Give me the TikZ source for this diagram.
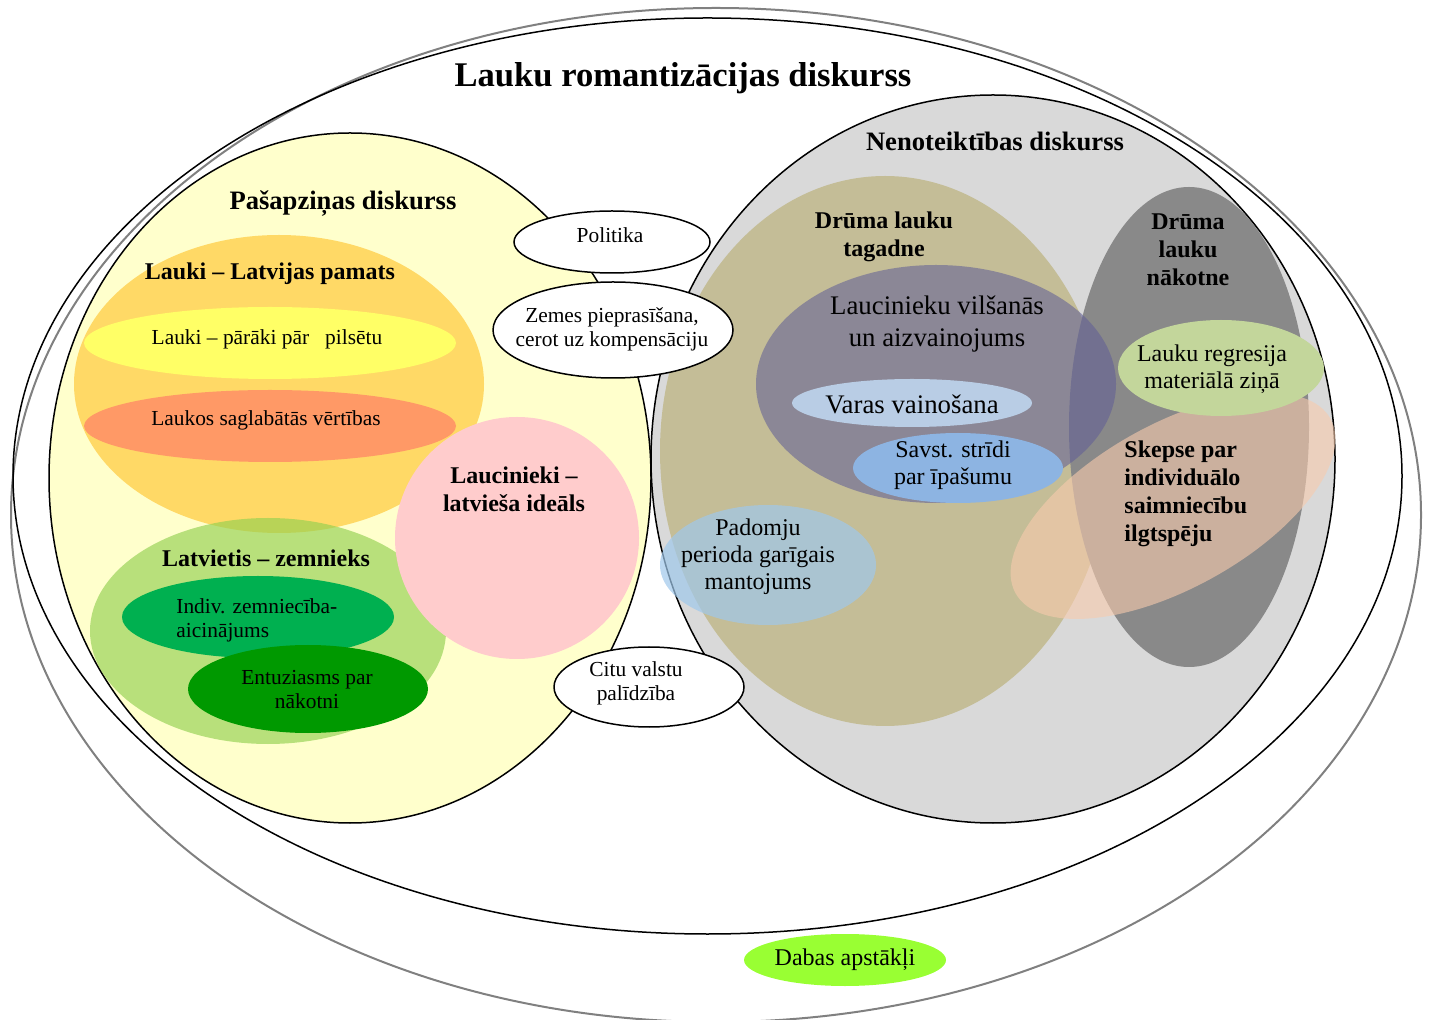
\documentclass[tikz,border=0pt]{standalone}
\usepackage{fontspec}
\setmainfont{Liberation Serif}
\usepackage{tikz}
\usetikzlibrary{shapes.geometric}
\definecolor{ringgray}{RGB}{128,128,128}
\definecolor{paleyellow}{RGB}{255,255,204}
\definecolor{lightgray}{RGB}{217,217,217}
\definecolor{gold}{RGB}{255,217,102}
\definecolor{lemon}{RGB}{255,255,102}
\definecolor{salmon}{RGB}{255,153,102}
\definecolor{grass}{RGB}{146,208,80}
\definecolor{rose}{RGB}{255,204,204}
\definecolor{emerald}{RGB}{0,176,80}
\definecolor{forest}{RGB}{0,153,0}
\definecolor{tan}{RGB}{196,189,151}
\definecolor{slate}{RGB}{137,137,137}
\definecolor{dusk}{RGB}{96,94,150}
\definecolor{sky}{RGB}{185,205,229}
\definecolor{cornflower}{RGB}{141,180,226}
\definecolor{mist}{RGB}{160,200,235}
\definecolor{peach}{RGB}{248,203,173}
\definecolor{olive}{RGB}{195,214,155}
\definecolor{lime}{RGB}{153,255,51}

\begin{document}
\begin{tikzpicture}[x=0.5pt,y=-0.5pt,
          blob/.style={ellipse,inner sep=0pt,line width=0.75pt},
          bubble/.style={blob,draw,fill=white},
          txt/.style={align=center,inner sep=0pt,font=\fontsize{10.7}{12}\selectfont},
          mtxt/.style={align=center,inner sep=0pt,font=\fontsize{12}{13.6}\selectfont},
          btxt/.style={align=center,inner sep=0pt,font=\fontsize{13.4}{16}\selectfont},
          hd/.style={align=center,inner sep=0pt,font=\bfseries\fontsize{12}{14}\selectfont},
          bighd/.style={inner sep=0pt,font=\bfseries\fontsize{13.3}{15}\selectfont}
        ]
        \useasboundingbox (0,0) rectangle (1429,1020);
        \node[blob,draw=ringgray,line width=1pt,minimum width=705pt,minimum height=507pt] (nature) at (716,515) {};
        \node[blob,draw,minimum width=694.5pt,minimum height=458pt] (romance) at (707.5,476) {};
        \node[font=\bfseries\fontsize{17.3}{20}\selectfont,inner sep=0pt] (romance-t) at (683,78) {Lauku romantizācijas diskurss};

        \node[blob,draw,fill=paleyellow,minimum width=301pt,minimum height=345pt] (self) at (350,478) {};
        \node[blob,draw,fill=lightgray,minimum width=342pt,minimum height=364pt] (doubt) at (993,459) {};
        \node[bighd] (self-t) at (343,204) {Pašapziņas diskurss};
        \node[bighd] (doubt-t) at (995,141) {Nenoteiktības diskurss};

        \node[blob,fill=gold,minimum width=205pt,minimum height=149pt] (base) at (279,384) {};
        \node[blob,fill=lemon,minimum width=186pt,minimum height=36pt] (better) at (270,343) {};
        \node[blob,fill=salmon,minimum width=186pt,minimum height=36pt] (values) at (270,426) {};
        \node[blob,fill=grass,fill opacity=0.65,minimum width=178pt,minimum height=113pt] (farmer) at (268,631) {};
        \node[blob,fill=rose,minimum width=122pt,minimum height=121pt] (ideal) at (517,538) {};
        \node[blob,fill=emerald,minimum width=136pt,minimum height=41pt] (indiv) at (258,617) {};
        \node[blob,fill=forest,minimum width=120pt,minimum height=44pt] (hope) at (308,689) {};
        \node[hd] (base-t) at (270,274) {Lauki – Latvijas pamats};
        \node[txt] (better-t) at (267,339) {Lauki – pārāki pār~~~pilsētu};
        \node[txt] (values-t) at (266,420) {Laukos saglabātās vērtības};
        \node[hd] (ideal-t) at (514,489) {Laucinieki –\\latvieša ideāls};
        \node[hd] (farmer-t) at (266,558) {Latvietis – zemnieks};
        \node[txt,align=left,anchor=west] (indiv-t) at (176,620) {Indiv. zemniecība-\\aicinājums};
        \node[txt] (hope-t) at (307,690) {Entuziasms par\\nākotni};

        \node[blob,fill=tan,minimum width=225pt,minimum height=275pt] (now) at (885,451) {};
        \node[blob,fill=slate,minimum width=120pt,minimum height=240pt] (future) at (1189,427) {};
        \node[blob,fill=dusk,fill opacity=0.56,minimum width=180pt,minimum height=119pt] (hurt) at (936,384) {};
        \node[blob,fill=sky,minimum width=120pt,minimum height=24pt] (blame) at (912,403) {};
        \node[blob,fill=cornflower,minimum width=105pt,minimum height=35pt] (dispute) at (958,468) {};
        \node[blob,fill=mist,fill opacity=0.7,minimum width=108pt,minimum height=60pt] (soviet) at (768,565) {};
        \node[blob,fill=peach,fill opacity=0.6,rotate=29,minimum width=180pt,minimum height=82pt] (doubtfarm) at (1173,506) {};
        \node[blob,fill=olive,minimum width=103pt,minimum height=48pt] (decline) at (1221,368) {};
        \node[hd] (now-t) at (884,237) {Drūma lauku\\tagadne};
        \node[hd] (future-t) at (1188,250) {Drūma\\lauku\\nākotne};
        \node[btxt] (hurt-t) at (937,324) {Laucinieku vilšanās\\un aizvainojums};
        \node[btxt] (blame-t) at (912,404) {Varas vainošana};
        \node[mtxt] (dispute-t) at (953,465) {Savst. strīdi\\par īpašumu};
        \node[mtxt] (soviet-t) at (758,557) {Padomju\\perioda garīgais\\mantojums};
        \node[hd,align=left,anchor=west] (doubtfarm-t) at (1124,494) {Skepse par\\individuālo\\saimniecību\\ilgtspēju};
        \node[mtxt] (decline-t) at (1212,369) {Lauku regresija\\materiālā ziņā};

        \node[bubble,minimum width=98pt,minimum height=31pt] (policy) at (612,242) {};
        \node[bubble,minimum width=120pt,minimum height=48pt] (land) at (613,330) {};
        \node[bubble,minimum width=95pt,minimum height=40pt] (aid) at (649,687) {};
        \node[txt] (policy-t) at (610,235) {Politika};
        \node[txt] (land-t) at (612,329) {Zemes pieprasīšana,\\cerot uz kompensāciju};
        \node[txt] (aid-t) at (636,683) {Citu valstu\\palīdzība};

        \node[blob,fill=lime,minimum width=101pt,minimum height=26pt] (weather) at (845,960) {};
        \node[mtxt] (weather-t) at (845,960) {Dabas apstākļi};
      \end{tikzpicture}
\end{document}
